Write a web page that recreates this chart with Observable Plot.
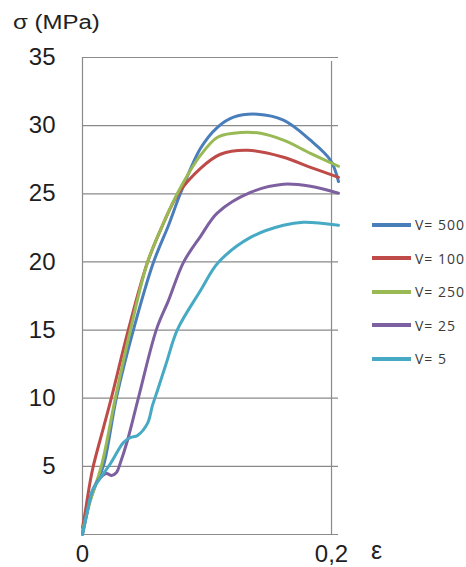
<!DOCTYPE html>
<html>
<head>
<meta charset="utf-8">
<script src="https://cdn.jsdelivr.net/npm/d3@7"></script>
<script src="https://cdn.jsdelivr.net/npm/@observablehq/plot@0.6"></script>
<style>
  html, body { margin: 0; padding: 0; background: white; overflow: hidden; }
  #wrap { position: relative; width: 466px; height: 567px; font-family: "Liberation Sans", Arial, sans-serif; }
  #title { position: absolute; left: 13px; top: 12px; font-size: 20px; line-height: 20px; color: #222; white-space: nowrap; transform: scaleX(1.2); transform-origin: left center; }
  #eps { position: absolute; left: 371px; top: 536px; font-size: 25px; color: #222; }
  #legend { position: absolute; left: 372px; top: 208px; }
  .row { display: flex; align-items: center; height: 33.5px; white-space: nowrap; }
  .sw { width: 39px; height: 4px; margin-right: 4px; }
  .lab { font-family: "Open Sans", sans-serif; font-size: 14px; letter-spacing: 1px; color: #3a3a3a; }
</style>
</head>
<body>
<div id="wrap">
  <div id="chart"></div>
  <div id="title">σ (MPa)</div>
  <div id="eps">ε</div>
  <div id="legend"></div>
</div>
<script>
const seriesNames = ["V= 500", "V= 100", "V= 250", "V= 25", "V= 5"];
const colors = ["#4a7ebb", "#be4b48", "#98b954", "#7d60a0", "#46aac5"];
const yTicks = [5, 10, 15, 20, 25, 30, 35];
const xTicks = [0, 0.2];
const xTickLabels = ["0", "0,2"];

const x500 = [0, 0.0048, 0.0104, 0.0169, 0.0273, 0.041, 0.057, 0.0691, 0.0787, 0.0948, 0.1084, 0.1213, 0.1406, 0.1614, 0.1831, 0.1992, 0.2056];
const y500 = [0.07, 2.13, 3.6, 5.07, 10.06, 15.05, 19.97, 22.69, 25.04, 28.34, 29.88, 30.62, 30.84, 30.4, 28.93, 27.46, 25.9];

const x100 = [0, 0.0024, 0.0056, 0.0088, 0.0169, 0.0233, 0.0369, 0.0522, 0.0643, 0.0771, 0.0948, 0.1108, 0.1325, 0.1614, 0.1831, 0.2056];
const y100 = [0.51, 1.76, 3.6, 5.07, 7.86, 10.06, 15.05, 19.97, 22.69, 25.04, 26.87, 27.9, 28.19, 27.68, 26.94, 26.21];

const x250 = [0, 0.0064, 0.0153, 0.0265, 0.0386, 0.0522, 0.0643, 0.0763, 0.0948, 0.1084, 0.1213, 0.143, 0.1614, 0.1831, 0.2056];
const y250 = [0.29, 2.5, 5.07, 10.06, 15.05, 19.97, 22.69, 25.04, 27.83, 29.15, 29.44, 29.44, 28.93, 27.97, 27.02];

const x25 = [0, 0.0032, 0.008, 0.0145, 0.0193, 0.0233, 0.0273, 0.0305, 0.0361, 0.045, 0.0594, 0.0691, 0.0811, 0.0948, 0.1084, 0.1349, 0.1614, 0.1831, 0.2056];
const y25 = [0, 1.39, 3.23, 4.18, 4.48, 4.33, 4.55, 5.29, 6.9, 10.06, 15.05, 17.18, 19.97, 21.88, 23.6, 25.1, 25.7, 25.55, 25.04];

const x5 = [0, 0.0032, 0.008, 0.0129, 0.0225, 0.0329, 0.0386, 0.0442, 0.0522, 0.0562, 0.0602, 0.0675, 0.0763, 0.0948, 0.1092, 0.1349, 0.1614, 0.1775, 0.2056];
const y5 = [0, 1.39, 3.23, 3.96, 5.21, 6.75, 7.12, 7.27, 8.15, 9.47, 10.57, 12.63, 15.05, 17.9, 19.97, 21.8, 22.69, 22.91, 22.69];

const seriesX = [x500, x100, x250, x25, x5];
const seriesY = [y500, y100, y250, y25, y5];

const rows = [];
seriesNames.forEach((name, i) => {
  seriesX[i].forEach((xv, j) => rows.push({ series: name, x: xv, y: seriesY[i][j] }));
});

const grid = "#8a8a8a";
const chart = Plot.plot({
  width: 466,
  height: 567,
  marginTop: 57,
  marginBottom: 33,
  marginLeft: 82,
  marginRight: 128,
  style: { fontFamily: "Liberation Sans, Arial, sans-serif", fontSize: "24px", color: "#1e1e1e", background: "white" },
  x: { domain: [0, 0.2056], ticks: xTicks, tickFormat: d => xTickLabels[xTicks.indexOf(d)], tickSize: 0, tickPadding: 10, label: null },
  y: { domain: [0, 35], ticks: yTicks, tickSize: 0, tickPadding: 27, label: null },
  color: { domain: seriesNames, range: colors },
  marks: [
    Plot.ruleY(yTicks, { stroke: grid, strokeWidth: 1.2 }),
    Plot.ruleY([0], { stroke: grid, strokeWidth: 1.2 }),
    Plot.ruleX([0], { y1: 0, y2: 35, stroke: grid, strokeWidth: 1.2 }),
    Plot.ruleX([0.2], { y1: 0, y2: 35, insetBottom: -4, stroke: grid, strokeWidth: 1.2 }),
    Plot.line(rows, { x: "x", y: "y", z: "series", stroke: "series", strokeWidth: 3, curve: "catmull-rom" })
  ]
});
document.getElementById("chart").appendChild(chart);

const legend = document.getElementById("legend");
seriesNames.forEach((name, i) => {
  const r = document.createElement("div");
  r.className = "row";
  r.innerHTML = `<div class="sw" style="background:${colors[i]}"></div><span class="lab">${name}</span>`;
  legend.appendChild(r);
});
</script>
</body>
</html>
